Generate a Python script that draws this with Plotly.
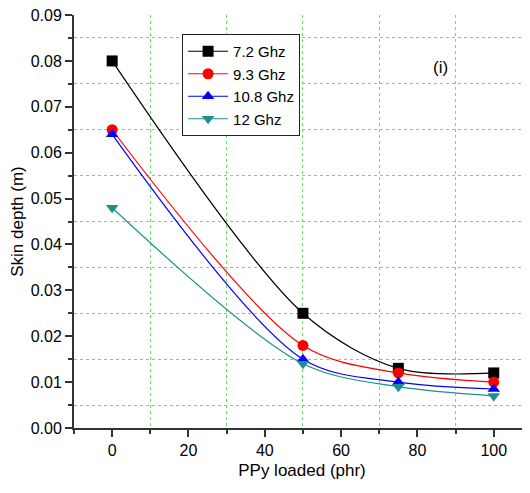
import plotly.graph_objects as go

ppy = [0, 50, 75, 100]
f72 = [0.080, 0.025, 0.013, 0.012]
f93 = [0.065, 0.018, 0.012, 0.010]
f108 = [0.064, 0.015, 0.010, 0.0085]
f12 = [0.048, 0.014, 0.009, 0.007]

series = [
    ("7.2 Ghz", f72, "black", "square"),
    ("9.3 Ghz", f93, "red", "circle"),
    ("10.8 Ghz", f108, "blue", "triangle-up"),
    ("12 Ghz", f12, "#1a9090", "triangle-down"),
]

fig = go.Figure()
for name, ys, col, sym in series:
    fig.add_trace(go.Scatter(
        x=ppy, y=ys, name=name, mode="lines+markers",
        line=dict(color=col, width=1.2, shape="spline", smoothing=0.9),
        marker=dict(symbol=sym, size=11, color=col),
        cliponaxis=False,
    ))

font = "Arial, Liberation Sans, sans-serif"
fig.update_layout(
    width=522, height=485,
    margin=dict(l=66, r=0, t=7, b=65),
    paper_bgcolor="white", plot_bgcolor="white",
    font=dict(family=font, size=16, color="black"),
    showlegend=True,
    legend=dict(x=0.237, y=0.954, xanchor="left", yanchor="top",
                bordercolor="#222", borderwidth=1, bgcolor="white",
                font=dict(size=15), tracegroupgap=0, itemwidth=40),
    annotations=[dict(text="(i)", x=86, y=0.0785, xref="x", yref="y",
                      showarrow=False, font=dict(size=17))],
)

fig.update_xaxes(
    range=[-10, 109.5], tickvals=[0, 20, 40, 60, 80, 100],
    ticks="outside", ticklen=7, tickwidth=1.5, tickcolor="#333",
    showline=True, linecolor="#333", linewidth=2, showgrid=False, zeroline=False,
    automargin=False, ticklabeloverflow="allow",
    minor=dict(tickvals=[-10, 10, 30, 50, 70, 90], ticks="outside", ticklen=4,
               tickcolor="#333", showgrid=True, gridcolor="#55ee55",
               griddash="dot", gridwidth=1),
    title=dict(text="PPy loaded (phr)", font=dict(size=17), standoff=6),
    tickfont=dict(size=16),
)
fig.update_yaxes(
    range=[0, 0.09001], tickvals=[0, 0.01, 0.02, 0.03, 0.04, 0.05, 0.06, 0.07, 0.08, 0.09],
    tickformat=".2f",
    ticks="outside", ticklen=7, tickwidth=1.5, tickcolor="#333",
    showline=True, linecolor="#333", linewidth=2, showgrid=False, zeroline=False,
    automargin=False, ticklabeloverflow="allow",
    minor=dict(tickvals=[0.005, 0.015, 0.025, 0.035, 0.045, 0.055, 0.065, 0.075, 0.085],
               ticks="outside", ticklen=4, tickcolor="#333", showgrid=True,
               gridcolor="#55ee55", griddash="dot", gridwidth=1),
    title=dict(text="Skin depth (m)", font=dict(size=17), standoff=6),
    tickfont=dict(size=16),
)

fig.write_html("out.html")
